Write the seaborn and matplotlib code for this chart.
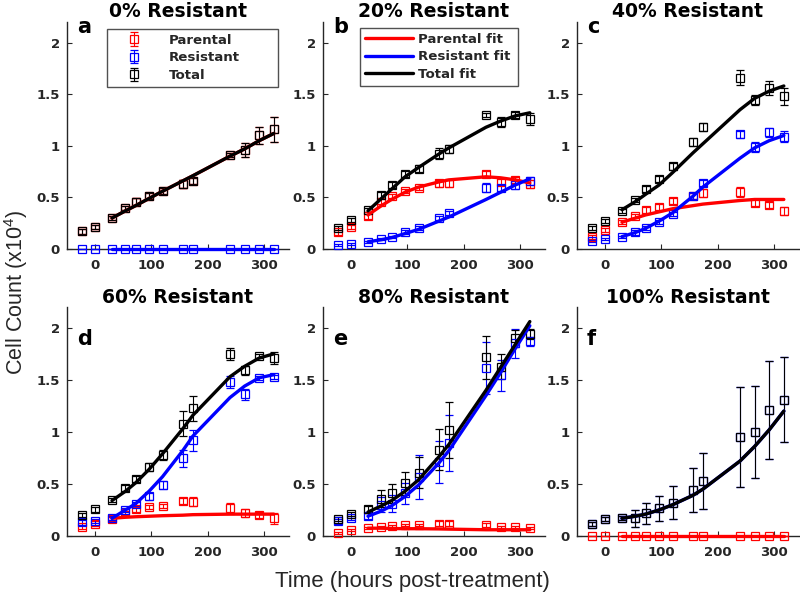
import matplotlib
matplotlib.use("Agg")
import matplotlib.pyplot as plt
import seaborn as sns
import numpy as np

# ---------------- data ----------------
time = [-24, 0, 30, 54, 72, 96, 120, 156, 174, 240, 266, 292, 318]
fit_time = [30, 54, 72, 96, 120, 156, 174, 240, 266, 292, 318]

titles = ["0% Resistant", "20% Resistant", "40% Resistant",
          "60% Resistant", "80% Resistant", "100% Resistant"]
letters = ["a", "b", "c", "d", "e", "f"]

# panel a (0%)
a_par = [0.17, 0.21, 0.30, 0.395, 0.46, 0.51, 0.565, 0.63, 0.66, 0.91, 0.96, 1.10, 1.16]
a_par_err = [0.02, 0.02, 0.02, 0.02, 0.03, 0.03, 0.03, 0.04, 0.03, 0.02, 0.07, 0.08, 0.12]
a_res = [0, 0, 0, 0, 0, 0, 0, 0, 0, 0, 0, 0, 0]
a_res_err = [0, 0, 0, 0, 0, 0, 0, 0, 0, 0, 0, 0, 0]
a_tot = [0.17, 0.21, 0.30, 0.395, 0.46, 0.51, 0.565, 0.63, 0.66, 0.91, 0.96, 1.10, 1.16]
a_tot_err = [0.02, 0.02, 0.02, 0.02, 0.03, 0.03, 0.03, 0.04, 0.03, 0.02, 0.07, 0.08, 0.12]
a_fit_par = [0.30, 0.37, 0.42, 0.49, 0.56, 0.66, 0.71, 0.90, 0.97, 1.05, 1.12]
a_fit_res = [0, 0, 0, 0, 0, 0, 0, 0, 0, 0, 0]
a_fit_tot = [0.30, 0.37, 0.42, 0.49, 0.56, 0.66, 0.71, 0.90, 0.97, 1.05, 1.12]

# panel b (20%)
b_par = [0.16, 0.21, 0.315, 0.46, 0.51, 0.565, 0.59, 0.635, 0.635, 0.73, 0.65, 0.67, 0.63]
b_par_err = [0.02, 0.02, 0.02, 0.02, 0.02, 0.02, 0.02, 0.03, 0.03, 0.03, 0.03, 0.03, 0.04]
b_res = [0.04, 0.05, 0.07, 0.10, 0.115, 0.165, 0.20, 0.30, 0.345, 0.595, 0.595, 0.625, 0.66]
b_res_err = [0.01, 0.01, 0.01, 0.01, 0.01, 0.02, 0.02, 0.02, 0.02, 0.04, 0.03, 0.04, 0.04]
b_tot = [0.20, 0.28, 0.38, 0.52, 0.62, 0.725, 0.78, 0.925, 0.97, 1.30, 1.23, 1.30, 1.26]
b_tot_err = [0.02, 0.02, 0.02, 0.03, 0.03, 0.03, 0.03, 0.05, 0.04, 0.02, 0.05, 0.03, 0.06]
b_fit_par = [0.33, 0.42, 0.48, 0.55, 0.60, 0.65, 0.67, 0.70, 0.69, 0.67, 0.64]
b_fit_res = [0.07, 0.09, 0.11, 0.15, 0.19, 0.27, 0.31, 0.48, 0.55, 0.62, 0.68]
b_fit_tot = [0.37, 0.49, 0.58, 0.70, 0.79, 0.92, 0.98, 1.18, 1.24, 1.29, 1.32]

# panel c (40%)
c_par = [0.12, 0.185, 0.26, 0.32, 0.38, 0.41, 0.465, 0.515, 0.54, 0.555, 0.45, 0.43, 0.37]
c_par_err = [0.02, 0.02, 0.02, 0.02, 0.03, 0.03, 0.03, 0.03, 0.04, 0.05, 0.03, 0.03, 0.04]
c_res = [0.075, 0.095, 0.12, 0.16, 0.20, 0.265, 0.335, 0.51, 0.64, 1.11, 0.99, 1.13, 1.09]
c_res_err = [0.01, 0.01, 0.01, 0.02, 0.02, 0.02, 0.02, 0.03, 0.03, 0.03, 0.05, 0.04, 0.05]
c_tot = [0.20, 0.27, 0.37, 0.475, 0.58, 0.68, 0.80, 1.04, 1.18, 1.66, 1.445, 1.56, 1.48]
c_tot_err = [0.02, 0.02, 0.02, 0.02, 0.03, 0.03, 0.03, 0.04, 0.04, 0.07, 0.05, 0.07, 0.08]
c_fit_par = [0.26, 0.30, 0.33, 0.36, 0.39, 0.42, 0.435, 0.47, 0.48, 0.48, 0.48]
c_fit_res = [0.12, 0.16, 0.20, 0.27, 0.35, 0.51, 0.60, 0.88, 0.98, 1.05, 1.10]
c_fit_tot = [0.38, 0.46, 0.53, 0.62, 0.74, 0.93, 1.02, 1.35, 1.46, 1.53, 1.58]

# panel d (60%)
d_par = [0.09, 0.12, 0.16, 0.22, 0.255, 0.28, 0.29, 0.335, 0.33, 0.265, 0.22, 0.20, 0.17]
d_par_err = [0.02, 0.02, 0.02, 0.02, 0.02, 0.02, 0.02, 0.03, 0.04, 0.05, 0.04, 0.03, 0.05]
d_res = [0.13, 0.145, 0.17, 0.25, 0.31, 0.38, 0.49, 0.745, 0.92, 1.48, 1.36, 1.52, 1.53]
d_res_err = [0.02, 0.02, 0.02, 0.02, 0.02, 0.03, 0.04, 0.08, 0.10, 0.06, 0.05, 0.02, 0.02]
d_tot = [0.20, 0.255, 0.345, 0.46, 0.545, 0.665, 0.78, 1.08, 1.225, 1.75, 1.59, 1.73, 1.71]
d_tot_err = [0.02, 0.02, 0.02, 0.03, 0.03, 0.04, 0.05, 0.12, 0.12, 0.06, 0.04, 0.02, 0.06]
d_fit_par = [0.17, 0.18, 0.185, 0.19, 0.195, 0.20, 0.205, 0.21, 0.21, 0.21, 0.21]
d_fit_res = [0.17, 0.25, 0.31, 0.43, 0.57, 0.82, 0.96, 1.33, 1.44, 1.52, 1.55]
d_fit_tot = [0.34, 0.43, 0.51, 0.64, 0.79, 1.03, 1.16, 1.53, 1.63, 1.71, 1.75]

# panel e (80%)
e_par = [0.03, 0.06, 0.08, 0.09, 0.10, 0.105, 0.11, 0.12, 0.12, 0.105, 0.09, 0.085, 0.075]
e_par_err = [0.01, 0.01, 0.01, 0.01, 0.01, 0.01, 0.01, 0.02, 0.02, 0.02, 0.01, 0.01, 0.01]
e_res = [0.14, 0.17, 0.19, 0.30, 0.31, 0.41, 0.57, 0.71, 0.89, 1.61, 1.545, 1.85, 1.87]
e_res_err = [0.02, 0.02, 0.03, 0.07, 0.08, 0.10, 0.21, 0.20, 0.27, 0.25, 0.15, 0.14, 0.04]
e_tot = [0.16, 0.215, 0.255, 0.36, 0.41, 0.505, 0.61, 0.83, 1.02, 1.715, 1.625, 1.90, 1.94]
e_tot_err = [0.02, 0.02, 0.03, 0.08, 0.09, 0.11, 0.15, 0.20, 0.27, 0.21, 0.12, 0.08, 0.05]
e_fit_par = [0.075, 0.075, 0.072, 0.07, 0.07, 0.068, 0.066, 0.06, 0.06, 0.06, 0.06]
e_fit_res = [0.19, 0.24, 0.29, 0.38, 0.49, 0.70, 0.82, 1.35, 1.57, 1.80, 2.02]
e_fit_tot = [0.23, 0.29, 0.34, 0.43, 0.54, 0.76, 0.88, 1.40, 1.62, 1.84, 2.06]

# panel f (100%)
f_par = [0, 0, 0, 0, 0, 0, 0, 0, 0, 0, 0, 0, 0]
f_par_err = [0, 0, 0, 0, 0, 0, 0, 0, 0, 0, 0, 0, 0]
f_res = [0.115, 0.16, 0.17, 0.17, 0.22, 0.265, 0.32, 0.44, 0.53, 0.95, 1.00, 1.21, 1.31]
f_res_err = [0.02, 0.02, 0.02, 0.08, 0.10, 0.12, 0.16, 0.21, 0.27, 0.48, 0.44, 0.47, 0.41]
f_tot = [0.115, 0.16, 0.17, 0.17, 0.22, 0.265, 0.32, 0.44, 0.53, 0.95, 1.00, 1.21, 1.31]
f_tot_err = [0.02, 0.02, 0.02, 0.08, 0.10, 0.12, 0.16, 0.21, 0.27, 0.48, 0.44, 0.47, 0.41]
f_fit_par = [0, 0, 0, 0, 0, 0, 0, 0, 0, 0, 0]
f_fit_res = [0.17, 0.19, 0.21, 0.25, 0.30, 0.39, 0.45, 0.72, 0.86, 1.02, 1.20]
f_fit_tot = [0.17, 0.19, 0.21, 0.25, 0.30, 0.39, 0.45, 0.72, 0.86, 1.02, 1.20]

panels = [
    (a_par, a_par_err, a_res, a_res_err, a_tot, a_tot_err, a_fit_par, a_fit_res, a_fit_tot),
    (b_par, b_par_err, b_res, b_res_err, b_tot, b_tot_err, b_fit_par, b_fit_res, b_fit_tot),
    (c_par, c_par_err, c_res, c_res_err, c_tot, c_tot_err, c_fit_par, c_fit_res, c_fit_tot),
    (d_par, d_par_err, d_res, d_res_err, d_tot, d_tot_err, d_fit_par, d_fit_res, d_fit_tot),
    (e_par, e_par_err, e_res, e_res_err, e_tot, e_tot_err, e_fit_par, e_fit_res, e_fit_tot),
    (f_par, f_par_err, f_res, f_res_err, f_tot, f_tot_err, f_fit_par, f_fit_res, f_fit_tot),
]

xticks = [0, 100, 200, 300]
yticks = [0, 0.5, 1, 1.5, 2]
ytick_labels = ["0", "0.5", "1", "1.5", "2"]

# ---------------- style ----------------
sns.set_theme(style="ticks")
plt.rcParams["font.family"] = ["DejaVu Sans"]
plt.rcParams["mathtext.default"] = "regular"

RED = "#ff0000"
BLUE = "#0000ff"
BLACK = "#000000"
AXC = "#262626"

W, H = 800, 594
fig = plt.figure(figsize=(8, 5.94), dpi=100)

col_left = [67, 323, 577]
ax_w = 222
rows = [(22, 249), (307, 536)]

label_font = ["Liberation Sans", "DejaVu Sans"]

for i, data in enumerate(panels):
    r, c = divmod(i, 3)
    top, bot = rows[r]
    left = col_left[c]
    ax_h = bot - top
    ax = fig.add_axes([left / W, 1 - bot / H, ax_w / W, ax_h / H])
    (par, par_e, res, res_e, tot, tot_e, fpar, fres, ftot) = data

    eb_kw = dict(fmt="s", mfc="none", ms=5.5, mew=0.9, elinewidth=0.8,
                 capsize=3, capthick=0.8, clip_on=False, zorder=3)
    h1 = ax.errorbar(time, par, yerr=par_e, mec=RED, ecolor=RED, label="Parental", **eb_kw)
    h2 = ax.errorbar(time, res, yerr=res_e, mec=BLUE, ecolor=BLUE, label="Resistant", **eb_kw)
    h3 = ax.errorbar(time, tot, yerr=tot_e, mec=BLACK, ecolor=BLACK, label="Total", **eb_kw)

    sns.lineplot(x=fit_time, y=fpar, color=RED, lw=2.4, ax=ax, label="Parental fit",
                 zorder=4, clip_on=False)
    sns.lineplot(x=fit_time, y=fres, color=BLUE, lw=2.4, ax=ax, label="Resistant fit",
                 zorder=4, clip_on=False)
    sns.lineplot(x=fit_time, y=ftot, color=BLACK, lw=2.4, ax=ax, label="Total fit",
                 zorder=4, clip_on=False)
    lines = ax.get_lines()[-3:]
    if ax.get_legend() is not None:
        ax.get_legend().remove()

    ax.set_xlim(-50, 345)
    ax.set_ylim(0, 2.2)
    ax.set_xticks(xticks)
    ax.set_xticklabels([str(t) for t in xticks])
    ax.set_yticks(yticks)
    ax.set_yticklabels(ytick_labels)
    ax.set_xlabel("")
    ax.set_ylabel("")
    for s in ["top", "right"]:
        ax.spines[s].set_visible(False)
    for s in ["left", "bottom"]:
        ax.spines[s].set_color(AXC)
        ax.spines[s].set_linewidth(1.0)
        ax.spines[s].set_zorder(2)
    ax.tick_params(axis="both", direction="in", length=3.5, width=0.8, color=AXC,
                   labelcolor=AXC, labelsize=9.5)
    ax.tick_params(axis="x", pad=7.5)
    ax.tick_params(axis="y", pad=5)
    for lab in ax.get_xticklabels() + ax.get_yticklabels():
        lab.set_fontweight("bold")

    ax.set_title(titles[i], fontsize=13.5, fontweight="bold", color="black",
                 pad=3.5 if r == 0 else 2.5)
    base = 33 if r == 0 else 345
    ax.text(10 / ax_w, (bot - base) / ax_h, letters[i], transform=ax.transAxes,
            fontsize=15, fontweight="bold", color="black", va="baseline", ha="left")

    if i == 0:
        x0, x1, y0, y1 = 107, 278, 29, 88
        leg = ax.legend(handles=[h1, h2, h3], labels=["Parental", "Resistant", "Total"],
                        loc="upper left",
                        bbox_to_anchor=((x0 - left) / ax_w, (bot - y1) / ax_h,
                                        (x1 - x0) / ax_w, (y1 - y0) / ax_h),
                        mode="expand",
                        prop=dict(weight="bold", size=9.6), frameon=True, fancybox=False,
                        edgecolor=AXC, handlelength=3.4, handletextpad=0.9,
                        borderpad=0.35, labelspacing=0.35, borderaxespad=0)
        leg.get_frame().set_linewidth(1.0)
    if i == 1:
        x0, x1, y0, y1 = 360, 518, 28, 85
        leg = ax.legend(handles=lines, labels=["Parental fit", "Resistant fit", "Total fit"],
                        loc="upper left",
                        bbox_to_anchor=((x0 - left) / ax_w, (bot - y1) / ax_h,
                                        (x1 - x0) / ax_w, (y1 - y0) / ax_h),
                        mode="expand",
                        prop=dict(weight="bold", size=9.6), frameon=True, fancybox=False,
                        edgecolor=AXC, handlelength=3.6, handletextpad=0.4,
                        borderpad=0.35, labelspacing=0.35, borderaxespad=0)
        leg.get_frame().set_linewidth(1.0)

fig.text(412 / W, 1 - 581 / H, "Time (hours post-treatment)", ha="center", va="center",
         fontsize=16, family=label_font, color=AXC)
fig.text(16 / W, 1 - 292 / H, "Cell Count (x10$^{4}$)", ha="center", va="center",
         rotation=90, fontsize=15.5, family=label_font, color=AXC)

fig.savefig("out.png", dpi=100)
